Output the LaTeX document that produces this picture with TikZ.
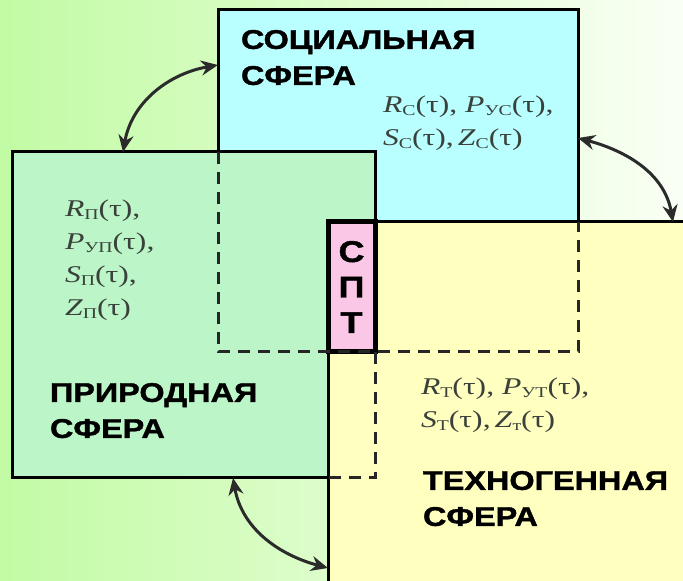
\documentclass[tikz,border=0pt]{standalone}
\usepackage{fontspec}
\setmainfont{Liberation Serif}
\newfontfamily\formfont[FakeStretch=1.32]{Liberation Serif}
\newfontfamily\headfont[FakeStretch=1.2, BoldFeatures={FakeBold=1.4}]{Liberation Sans}
\usetikzlibrary{arrows.meta, positioning, calc}
\definecolor{bgleft}{RGB}{194,251,164}
\definecolor{bgright}{RGB}{250,255,245}
\definecolor{socialblue}{RGB}{185,255,255}
\definecolor{naturegreen}{RGB}{188,245,200}
\definecolor{technoyellow}{RGB}{255,255,192}
\definecolor{sptpink}{RGB}{250,200,230}
\definecolor{formgrey}{HTML}{3A403A}
\definecolor{arrowgrey}{HTML}{2B2B2B}

\newcommand{\sidx}[1]{\raisebox{-0.3ex}{\fontsize{15}{15}\selectfont #1}}
\newcommand{\indic}[2]{\textit{#1}\sidx{#2}(τ)}

\begin{document}
\begin{tikzpicture}[
    x=1pt, y=1pt,
    >={Stealth[length=17pt, width=15pt]},
    every node/.style={inner sep=0pt, outer sep=0pt},
    sphere/.style={rectangle, draw=black, line width=3pt, anchor=north west},
    hidden/.style={draw=black!85, line width=3pt, dash pattern=on 12pt off 8pt},
    heading/.style={font=\headfont\bfseries\fontsize{27}{36}\selectfont, align=left},
    formula/.style={font=\formfont\fontsize{24}{33}\selectfont, text=formgrey, align=left},
    link/.style={<->, line width=3pt, draw=arrowgrey}
  ]

  % ===== background =====
  \useasboundingbox (0,0) rectangle (683,581);
  \clip (0,0) rectangle (683,581);
  \shade[left color=bgleft, right color=bgright] (0,0) rectangle (683,581);

  % ===== the three spheres =====
  \node[sphere, fill=socialblue, minimum width=360, minimum height=342] (social) at (218,571) {};
  \node[sphere, fill=naturegreen, minimum width=363, minimum height=326] (nature) at (12,429) {};
  \node[sphere, fill=technoyellow, minimum width=380, minimum height=380] (techno) at (328,359) {};

  % ===== overlap of all three =====
  \node[sphere, fill=sptpink, line width=5pt, minimum width=47, minimum height=130,
        font=\headfont\bfseries\fontsize{30}{35.5}\selectfont, align=center] (spt)
    at (328,359) {С\\П\\Т};

  % hidden edges
  \draw[hidden] (nature.north -| social.west) -- (social.south west)
    -- (social.south east) -- (techno.north -| social.east);
  \draw[hidden] (spt.south east) -- (nature.south east) -- (nature.south -| techno.west);

  % ===== links between spheres =====
  \draw[link] ([xshift=111pt]nature.north west) to[out=80, in=190] ([yshift=-55pt]social.north west);
  \draw[link] ([yshift=-128pt]social.north east) to[out=-15, in=100] ([xshift=345pt]techno.north west);
  \draw[link] ([xshift=221pt]nature.south west) to[out=-80, in=165] ([yshift=-346pt]techno.north west);

  % ===== names and indicators =====
  \node[heading, below right=20pt and 23pt of social.north west] (socialname) {СОЦИАЛЬНАЯ\\СФЕРА};
  \node[formula, below right=86pt and 165pt of social.north west] (socialvars)
    {\indic{R}{С}, \indic{P}{УС},\\\indic{S}{С},\,\indic{Z}{С}};

  \node[formula, below right=48pt and 53pt of nature.north west] (naturevars)
    {\indic{R}{П},\\\indic{P}{УП},\\\indic{S}{П},\\\indic{Z}{П}};
  \node[heading, below right=231pt and 38pt of nature.north west] (naturename) {ПРИРОДНАЯ\\СФЕРА};

  \node[formula, below right=156pt and 93pt of techno.north west] (technovars)
    {\indic{R}{Т}, \indic{P}{УТ},\\\indic{S}{Т},\,\indic{Z}{т}};
  \node[heading, below right=249pt and 95pt of techno.north west] (technoname) {ТЕХНОГЕННАЯ\\СФЕРА};

\end{tikzpicture}
\end{document}
